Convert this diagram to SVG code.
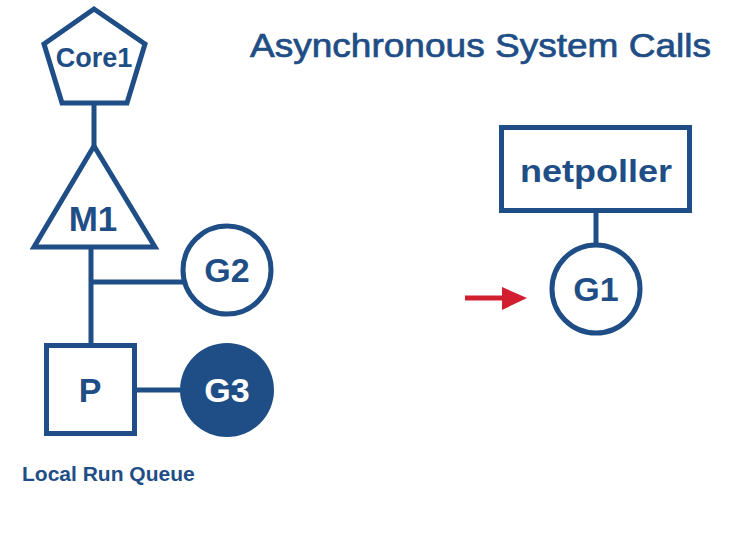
<svg xmlns="http://www.w3.org/2000/svg" width="748" height="552" viewBox="0 0 748 552">
<style>
.s{fill:none;stroke:#1f4e86;stroke-width:5;stroke-linejoin:miter}
.w{fill:#ffffff;stroke:#1f4e86;stroke-width:5}
.t{font-family:"Liberation Sans",Arial,Helvetica,sans-serif;font-weight:bold;fill:#1f4e86;text-anchor:middle}
.tw{font-family:"Liberation Sans",Arial,Helvetica,sans-serif;font-weight:bold;fill:#ffffff;text-anchor:middle}
</style>
<rect width="748" height="552" fill="#ffffff"/>
<text x="250" y="57" font-family="'Liberation Sans',Arial,Helvetica,sans-serif" font-size="33" fill="#1f4e86" stroke="#1f4e86" stroke-width="0.7" textLength="461" lengthAdjust="spacingAndGlyphs">Asynchronous System Calls</text>
<g id="connectors">
<line class="s" x1="94" y1="104" x2="94" y2="146"/>
<line class="s" x1="91" y1="248" x2="91" y2="346"/>
<line class="s" x1="91" y1="282" x2="184" y2="282"/>
<line class="s" x1="136" y1="390" x2="181" y2="390"/>
<line class="s" x1="596" y1="211" x2="596" y2="244"/>
<g id="arrow">
<line x1="465" y1="298" x2="506" y2="298" stroke="#d21f30" stroke-width="5"/>
<polygon points="502,287 527,298 502,310" fill="#d21f30"/>
</g>
</g>
<g id="core1">
<polygon class="w" points="94,9 145,44 127,103 62,103 44,44"/>
<text class="t" x="94" y="67" font-size="27">Core1</text>
</g>
<g id="m1">
<polygon class="w" points="94,146 155,247 34,247"/>
<text class="t" x="93" y="231" font-size="35">M1</text>
</g>
<g id="g2">
<circle class="w" cx="227" cy="270" r="44"/>
<text class="t" x="227" y="282" font-size="34">G2</text>
</g>
<g id="p">
<rect class="w" x="46.5" y="345.5" width="88" height="88"/>
<text class="t" x="90" y="402" font-size="34">P</text>
</g>
<g id="g3">
<circle cx="227" cy="390" r="47" fill="#1f4e86"/>
<text class="tw" x="227" y="402" font-size="34">G3</text>
</g>
<text class="t" x="22" y="481" font-size="21" style="text-anchor:start">Local Run Queue</text>
<g id="netpoller">
<rect class="w" x="501.5" y="127.5" width="188" height="83"/>
<text class="t" x="596" y="182" font-size="32" textLength="152" lengthAdjust="spacingAndGlyphs">netpoller</text>
</g>
<g id="g1">
<circle class="w" cx="596" cy="289" r="44"/>
<text class="t" x="596" y="301" font-size="34">G1</text>
</g>
</svg>
